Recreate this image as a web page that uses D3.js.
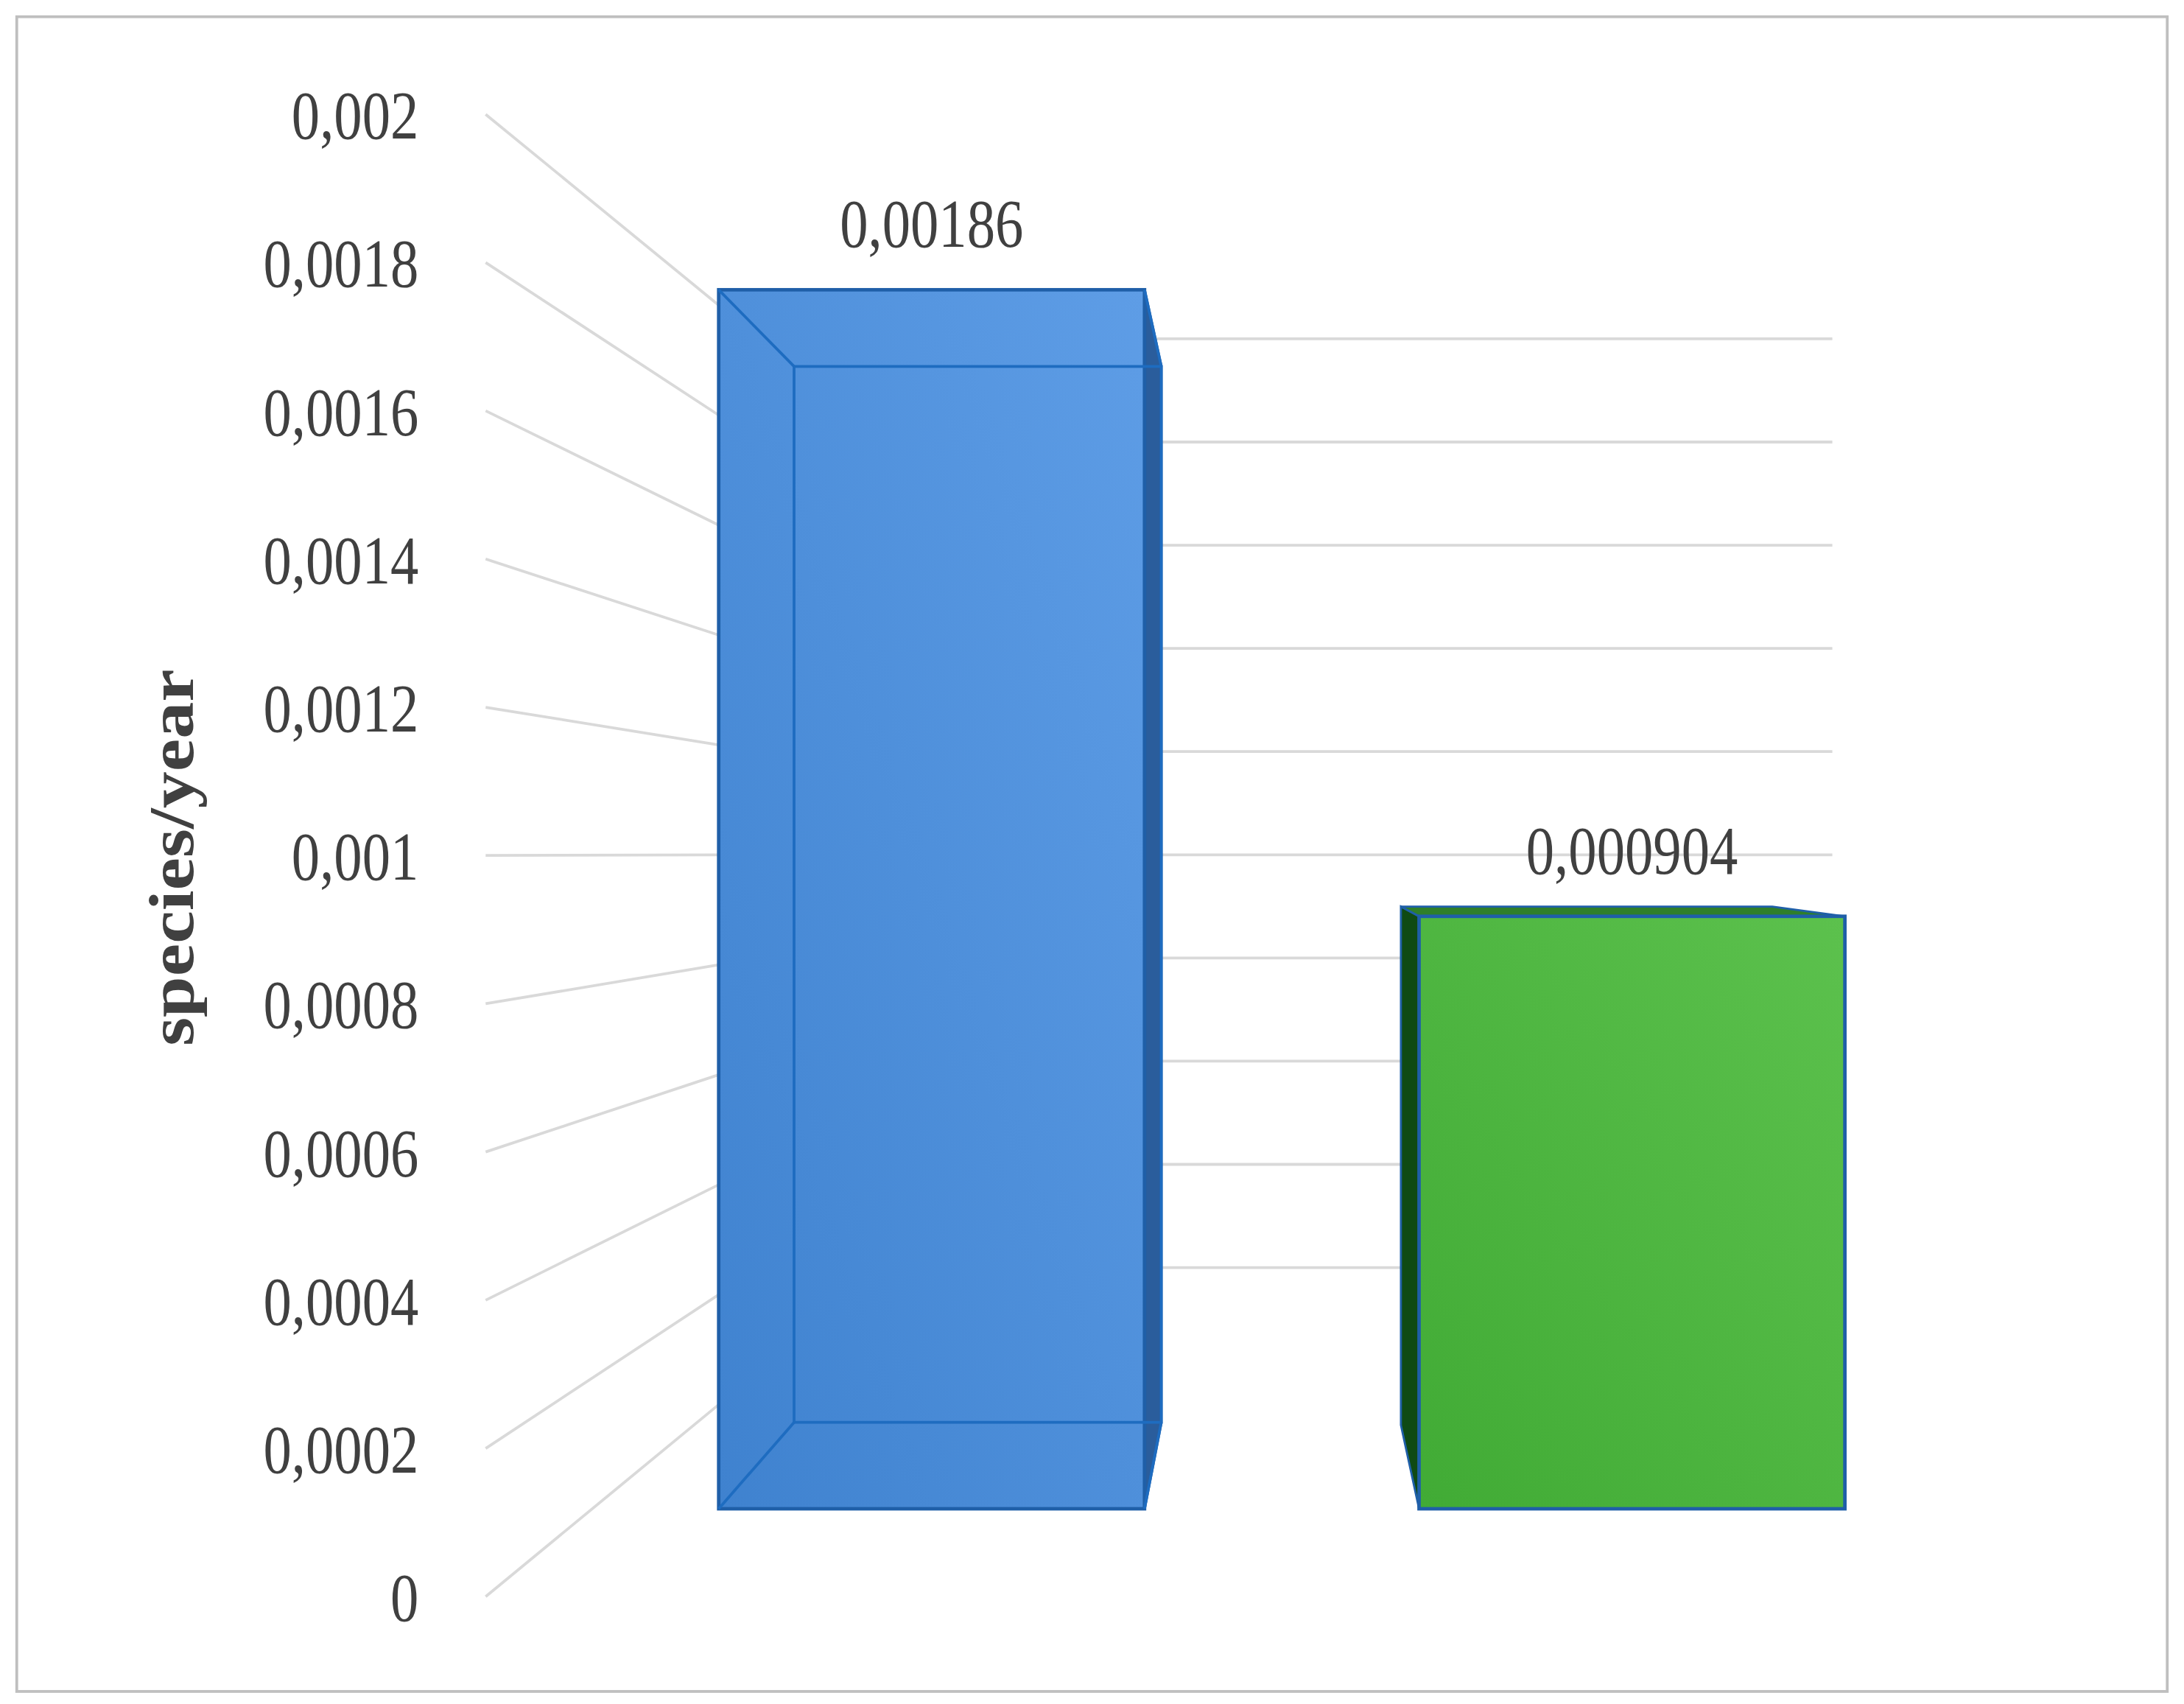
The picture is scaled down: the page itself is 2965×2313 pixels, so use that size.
<!DOCTYPE html><html><head><meta charset="utf-8"><script src="https://cdn.jsdelivr.net/npm/d3@7"></script>
<style>body{margin:0;background:#fff}</style></head><body><script>
const categories=["Series 1","Series 2"];
const values=[0.00186,0.000904];
const valueLabels=["0,00186","0,000904"];
const tickValues=[0,0.0002,0.0004,0.0006,0.0008,0.001,0.0012,0.0014,0.0016,0.0018,0.002];
const tickLabels=["0","0,0002","0,0004","0,0006","0,0008","0,001","0,0012","0,0014","0,0016","0,0018","0,002"];

const W=2965,H=2313,sx=W/1565,sy=H/1222;
const svg=d3.select("body").append("svg").attr("width",W).attr("height",H);
const g=svg.append("g").attr("transform",`scale(${sx},${sy})`);
g.append("rect").attr("x",12).attr("y",12).attr("width",1541).attr("height",1201).attr("fill","#fff").attr("stroke","#bfbfbf").attr("stroke-width",2);

const yFront=d3.scaleLinear().domain([0,0.002]).range([1145,82]);
const yBack=d3.scaleLinear().domain([0,0.002]).range([983,243]);
const yBar=d3.scaleLinear().domain([0,0.002]).range([1082,142]);
const x=d3.scaleBand().domain(categories).range([515,1322]).paddingInner(0.392);

const fontT="Liberation Serif";
function tickText(sel,size){return sel.attr("font-family",fontT).attr("font-size",size).attr("fill","#404040");}

tickValues.forEach(v=>{
  g.append("line").attr("x1",348).attr("y1",yFront(v)).attr("x2",515).attr("y2",yFront(v)+(yBack(v)-yFront(v))*0.85).attr("stroke","#d9d9d9").attr("stroke-width",2);
  if(v>0) g.append("line").attr("x1",515).attr("y1",yBack(v)).attr("x2",1313).attr("y2",yBack(v)).attr("stroke","#d9d9d9").attr("stroke-width",2);
});
tickValues.forEach((v,i)=>{
  tickText(g.append("text").attr("transform",`translate(300,${yFront(v)}) scale(0.88,1.08)`).attr("dy","0.35em").attr("text-anchor","end"),46).text(tickLabels[i]);
});
g.append("text").attr("transform","translate(122,615) rotate(-90) scale(1.15,1)").attr("text-anchor","middle").attr("dy","0.35em")
 .attr("font-family",fontT).attr("font-weight","bold").attr("font-size",46).attr("fill","#404040").text("species/year");

const defs=svg.append("defs");
const gb=defs.append("linearGradient").attr("id","gb").attr("x1",0).attr("y1",1).attr("x2",1).attr("y2",0);
gb.append("stop").attr("offset",0).attr("stop-color","#3f82cf");gb.append("stop").attr("offset",1).attr("stop-color","#5e9de6");
const gg=defs.append("linearGradient").attr("id","gg").attr("x1",0).attr("y1",1).attr("x2",1).attr("y2",0);
gg.append("stop").attr("offset",0).attr("stop-color","#41ab35");gg.append("stop").attr("offset",1).attr("stop-color","#5cc14d");

{
  const x0=x(categories[0]),x1=x0+x.bandwidth(),top=yBar(values[0]),bot=yBar(0);
  const bx0=x0+54,bx1=x1+12,bt=top+55,bb=bot-62;
  g.append("polygon").attr("points",[[x1,top],[bx1,bt],[bx1,bb],[x1,bot]].join(" ")).attr("fill","#2a5d9c").attr("stroke","#1f5fa8").attr("stroke-width",2);
  g.append("rect").attr("x",x0).attr("y",top).attr("width",x1-x0).attr("height",bot-top).attr("fill","url(#gb)").attr("stroke","#1f5fa8").attr("stroke-width",2.5);
  const st="#1e6cc0";
  g.append("rect").attr("x",bx0).attr("y",bt).attr("width",bx1-bx0).attr("height",bb-bt).attr("fill","none").attr("stroke",st).attr("stroke-width",2);
  [[x0,top,bx0,bt],[x1,top,bx1,bt],[x0,bot,bx0,bb],[x1,bot,bx1,bb]].forEach(d=>g.append("line").attr("x1",d[0]).attr("y1",d[1]).attr("x2",d[2]).attr("y2",d[3]).attr("stroke",st).attr("stroke-width",2));
  tickText(g.append("text").attr("transform",`translate(${(x0+x1)/2},${top-48}) scale(0.88,1.08)`).attr("dy","0.35em").attr("text-anchor","middle"),46).text(valueLabels[0]);
}
{
  const x0=x(categories[1]),x1=x0+x.bandwidth(),top=yBar(values[1]),bot=yBar(0);
  g.append("polygon").attr("points",[[x0-13,top-7],[x0,top],[x0,bot],[x0-13,bot-60]].join(" ")).attr("fill","#0f4a14").attr("stroke","#1f5fa8").attr("stroke-width",1.5);
  g.append("polygon").attr("points",[[x0-13,top-7],[x1-52,top-7],[x1,top],[x0,top]].join(" ")).attr("fill","#2f7f2a").attr("stroke","#1f5fa8").attr("stroke-width",1.5);
  g.append("rect").attr("x",x0).attr("y",top).attr("width",x1-x0).attr("height",bot-top).attr("fill","url(#gg)").attr("stroke","#1f5fa8").attr("stroke-width",2.5);
  tickText(g.append("text").attr("transform",`translate(${(x0+x1)/2},${top-48}) scale(0.88,1.08)`).attr("dy","0.35em").attr("text-anchor","middle"),46).text(valueLabels[1]);
}
</script></body></html>
